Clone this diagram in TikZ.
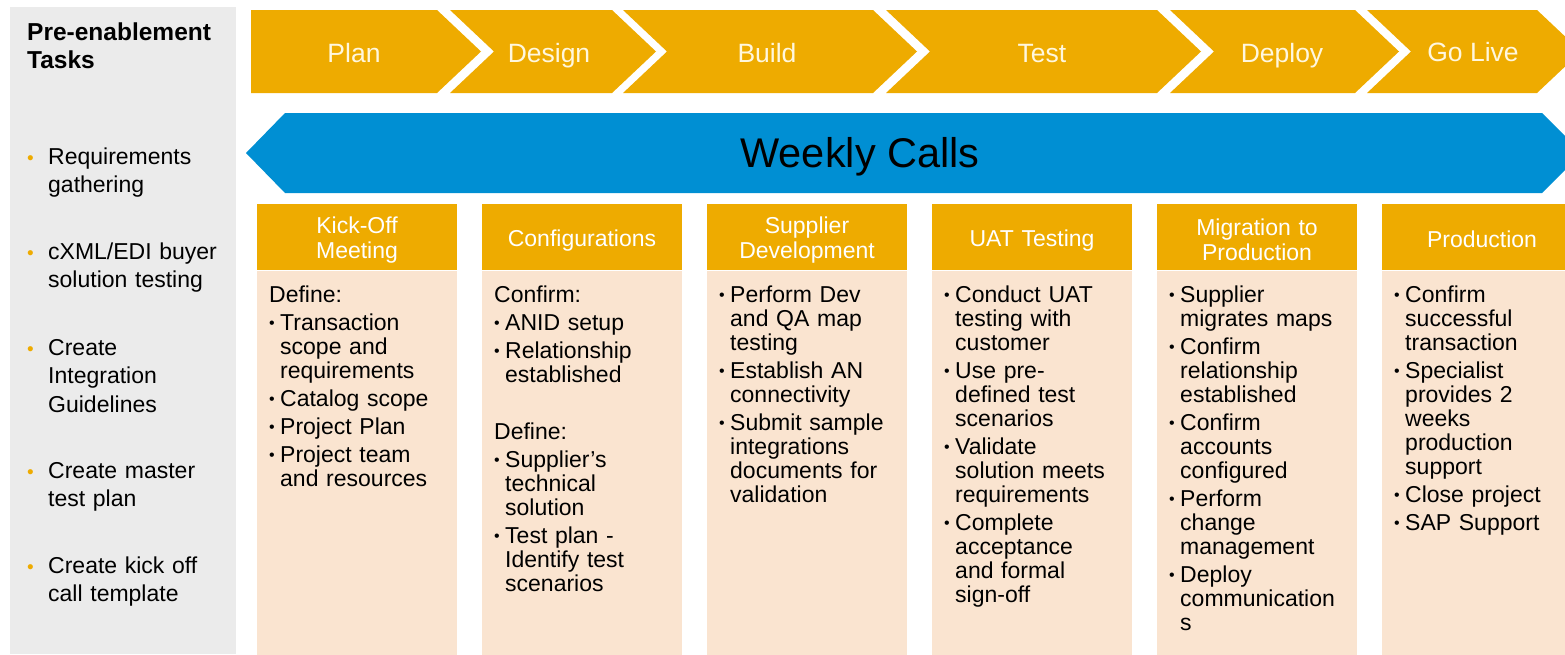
\documentclass[tikz,border=0pt]{standalone}
\usepackage{fontspec}
\setmainfont{Liberation Sans}
\usepackage{tikz}

\definecolor{sapgold}{RGB}{238,171,0}
\definecolor{sapblue}{RGB}{0,143,211}
\definecolor{panelgray}{RGB}{235,235,235}
\definecolor{peach}{RGB}{250,228,208}
\definecolor{cream}{RGB}{255,247,222}

% bullet for the column lists and for the task list on the left
\newcommand{\bitem}[1]{\hangindent=11pt\hangafter=1\noindent\makebox[11pt][l]{\raisebox{2pt}{\fontsize{16}{16}\selectfont\textbullet}}#1\par}
\newcommand{\tbul}[1]{\hangindent=21pt\hangafter=1\noindent\makebox[21pt][l]{\textcolor{sapgold}{\fontsize{19}{19}\selectfont\textbullet}}#1\par}

\tikzstyle{phase} = [fill=sapgold]
\tikzstyle{phasetext} = [anchor=base, text=cream, inner sep=0pt, font={\fontsize{26.5}{30}\selectfont}]
\tikzstyle{head} = [fill=sapgold, anchor=north, minimum width=200pt, minimum height=66pt, inner sep=0pt]
\tikzstyle{headtext} = [text=white, text width=196pt, align=center, inner sep=0pt, font={\fontsize{23}{25}\selectfont}]
\tikzstyle{body} = [fill=peach, anchor=north, minimum width=200pt, minimum height=384pt, inner sep=0pt]
\tikzstyle{steps} = [anchor=base west, text width=186pt, align=left, inner sep=0pt, font={\fontsize{23}{24}\selectfont}, execute at begin node={\setlength{\parskip}{4pt}}]
\tikzstyle{task} = [anchor=base west, text width=208pt, align=left, inner sep=0pt, font={\fontsize{23}{28.5}\selectfont}]

\begin{document}
\begin{tikzpicture}[x=1pt,y=-1pt]
    \useasboundingbox (0,0) rectangle (1565,654);
    \clip (0,0) rectangle (1565,654);

    % left panel
    \fill[panelgray] (10,7) rectangle (236,654);
    \node[anchor=base west, text width=208pt, align=left, inner sep=0pt, font={\bfseries\fontsize{24.5}{28}\selectfont}] (title) at (27,40) {Pre-enablement\newline Tasks};
    \node[task] (req) at (27,164) {\tbul{Requirements\newline gathering}};
    \node[task] (cxml) at (27,259) {\tbul{cXML/EDI buyer\newline solution testing}};
    \node[task] (guide) at (27,355) {\tbul{Create\newline Integration\newline Guidelines}};
    \node[task] (master) at (27,478) {\tbul{Create master\newline test plan}};
    \node[task] (kickcall) at (27,573) {\tbul{Create kick off\newline call template}};

    % phase chevrons
    \fill[phase] (251,10) -- (437,10) -- (481,51.5) -- (437,93) -- (251,93) -- cycle;
    \fill[phase] (450,10) -- (612,10) -- (656,51.5) -- (612,93) -- (450,93) -- (494,51.5) -- cycle;
    \fill[phase] (623,10) -- (873,10) -- (917,51.5) -- (873,93) -- (623,93) -- (667,51.5) -- cycle;
    \fill[phase] (886,10) -- (1157,10) -- (1201,51.5) -- (1157,93) -- (886,93) -- (930,51.5) -- cycle;
    \fill[phase] (1170,10) -- (1355,10) -- (1399,51.5) -- (1355,93) -- (1170,93) -- (1214,51.5) -- cycle;
    \fill[phase] (1367,10) -- (1537,10) -- (1581,51.5) -- (1537,93) -- (1367,93) -- (1411,51.5) -- cycle;
    \node[phasetext] (plan) at (354,62) {Plan};
    \node[phasetext] (design) at (549,62) {Design};
    \node[phasetext] (build) at (767,62) {Build};
    \node[phasetext] (test) at (1042,62) {Test};
    \node[phasetext] (deploy) at (1282,62) {Deploy};
    \node[phasetext] (golive) at (1473,61) {Go Live};

    % weekly calls band
    \fill[sapblue] (246,153) -- (285,113) -- (1542,113) -- (1582,153) -- (1542,193) -- (285,193) -- cycle;
    \node[anchor=base, inner sep=0pt, font={\fontsize{41.5}{45}\selectfont}] (weekly) at (860,167) {Weekly Calls};

    % columns
    \node[head] (kickoff) at (357,204) {};
    \node[body] (kickoffbody) at (kickoff.south) {};
    \node[head] (config) at (582,204) {};
    \node[body] (configbody) at (config.south) {};
    \node[head] (supdev) at (807,204) {};
    \node[body] (supdevbody) at (supdev.south) {};
    \node[head] (uat) at (1032,204) {};
    \node[body] (uatbody) at (uat.south) {};
    \node[head] (migration) at (1257,204) {};
    \node[body] (migrationbody) at (migration.south) {};
    \node[head] (production) at (1482,204) {};
    \node[body] (productionbody) at (production.south) {};

    \node[headtext] (kickofftitle) at ([yshift=-3pt]kickoff.center) {Kick-Off\\Meeting};
    \node[headtext] (configtitle) at ([yshift=-3pt]config.center) {Configurations};
    \node[headtext] (supdevtitle) at ([yshift=-3pt]supdev.center) {Supplier\\Development};
    \node[headtext] (uattitle) at ([yshift=-3pt]uat.center) {UAT Testing};
    \node[headtext] (migrationtitle) at ([yshift=-3pt]migration.center) {Migration to\\Production};
    \node[headtext] (productiontitle) at ([yshift=-2pt]production.center) {Production};

    \node[steps] (kickofftext) at (269,302) {Define:\par
        \bitem{Transaction\newline scope and\newline requirements}
        \bitem{Catalog scope}
        \bitem{Project Plan}
        \bitem{Project team\newline and resources}};
    \node[steps] (configtext) at (494,302) {Confirm:\par
        \bitem{ANID setup}
        \bitem{Relationship\newline established}
        \vspace{29pt}\noindent Define:\par
        \bitem{Supplier’s\newline technical\newline solution}
        \bitem{Test plan -\newline Identify test\newline scenarios}};
    \node[steps] (supdevtext) at (719,302) {%
        \bitem{Perform Dev\newline and QA map\newline testing}
        \bitem{Establish AN\newline connectivity}
        \bitem{Submit sample\newline integrations\newline documents for\newline validation}};
    \node[steps] (uattext) at (944,302) {%
        \bitem{Conduct UAT\newline testing with\newline customer}
        \bitem{Use pre-\newline defined test\newline scenarios}
        \bitem{Validate\newline solution meets\newline requirements}
        \bitem{Complete\newline acceptance\newline and formal\newline sign-off}};
    \node[steps] (migrationtext) at (1169,302) {%
        \bitem{Supplier\newline migrates maps}
        \bitem{Confirm\newline relationship\newline established}
        \bitem{Confirm\newline accounts\newline configured}
        \bitem{Perform\newline change\newline management}
        \bitem{Deploy\newline communication\newline s}};
    \node[steps] (productiontext) at (1394,302) {%
        \bitem{Confirm\newline successful\newline transaction}
        \bitem{Specialist\newline provides 2\newline weeks\newline production\newline support}
        \bitem{Close project}
        \bitem{SAP Support}};
\end{tikzpicture}
\end{document}
